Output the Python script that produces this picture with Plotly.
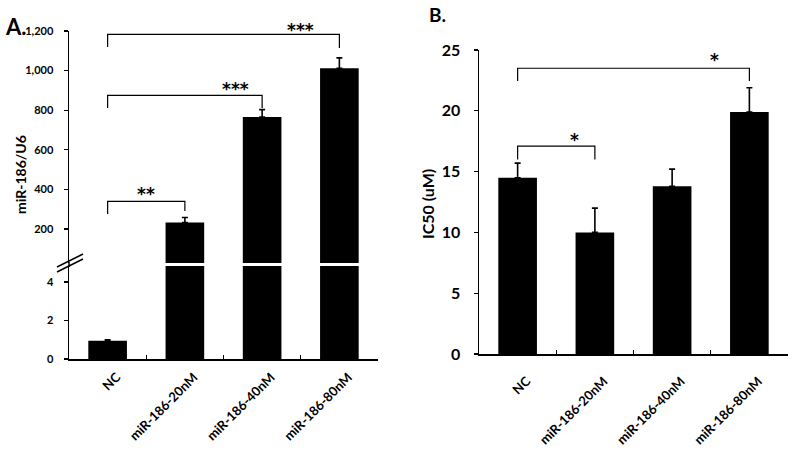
import plotly.graph_objects as go

categories = ["NC", "miR-186-20nM", "miR-186-40nM", "miR-186-80nM"]
mir_values = [0.95, 232, 765, 1012]
mir_errors = [0.05, 26, 38, 52]
ic50_values = [14.5, 10.0, 13.8, 19.9]
ic50_errors = [1.2, 2.0, 1.4, 2.0]

upper_ticks = [200, 400, 600, 800, 1000, 1200]
lower_ticks = [0, 2, 4]
ic50_ticks = [0, 5, 10, 15, 20, 25]

W, H = 794, 454
FONT = "Lato"
STAR_FONT = "DejaVu Sans"


def px(x):
    return x / W


def py(y):
    return 1 - y / H


def err(vals):
    return dict(type="data", array=vals, arrayminus=[0] * len(vals), symmetric=False,
                color="black", thickness=1.6, width=3)


fig = go.Figure()
fig.add_trace(go.Bar(x=categories, y=mir_values, width=0.5, marker_color="black",
                     marker_line_width=0, error_y=err(mir_errors), xaxis="x", yaxis="y",
                     showlegend=False, hoverinfo="skip"))
fig.add_trace(go.Bar(x=categories, y=mir_values, width=0.5, marker_color="black",
                     marker_line_width=0, error_y=err(mir_errors), xaxis="x", yaxis="y2",
                     showlegend=False, hoverinfo="skip"))
fig.add_trace(go.Bar(x=categories, y=ic50_values, width=0.5, marker_color="black",
                     marker_line_width=0, error_y=err(ic50_errors), xaxis="x3", yaxis="y3",
                     showlegend=False, hoverinfo="skip"))

axis_common = dict(showline=True, linecolor="black", linewidth=1.5, showgrid=False,
                   zeroline=False, color="black", automargin=False)

fig.update_layout(
    width=W, height=H, margin=dict(l=0, r=0, t=0, b=0, autoexpand=False),
    paper_bgcolor="white", plot_bgcolor="white",
    font=dict(family=FONT, color="black"),
    xaxis=dict(domain=[px(69), px(378)], anchor="y", type="category",
               range=[-0.5, 3.5], ticks="inside", tickson="boundaries", ticklen=4,
               tickwidth=1.2, tickcolor="black", tickangle=-45,
               tickfont=dict(size=13, weight="bold", family=FONT),
               ticklabelshift=9, ticklabelstandoff=4, **axis_common),
    yaxis=dict(domain=[py(359), py(266)], anchor="x", range=[0, 4.83],
               tickvals=lower_ticks, ticks="outside", ticklen=4, tickwidth=1.2,
               tickcolor="black", tickfont=dict(size=11, weight="bold", family=FONT),
               ticklabelstandoff=8, **axis_common),
    yaxis2=dict(domain=[py(263), py(31)], anchor="x", range=[28, 1200],
                tickvals=upper_ticks, tickformat=",", ticks="outside", ticklen=4,
                tickwidth=1.2, tickcolor="black",
                tickfont=dict(size=11, weight="bold", family=FONT),
                ticklabelstandoff=8, **axis_common),
    xaxis3=dict(domain=[px(479), px(788)], anchor="y3", type="category",
                range=[-0.5, 3.5], ticks="inside", tickson="boundaries", ticklen=4,
                tickwidth=1.2, tickcolor="black", tickangle=-45,
                tickfont=dict(size=13, weight="bold", family=FONT),
                ticklabelshift=9, ticklabelstandoff=13, **axis_common),
    yaxis3=dict(domain=[py(354), py(50)], anchor="x3", range=[0, 25],
                tickvals=ic50_ticks, ticks="outside", ticklen=4, tickwidth=1.2,
                tickcolor="black", tickfont=dict(size=16, weight="bold", family=FONT),
                ticklabelstandoff=10, **axis_common),
)

shapes = []
shapes.append(dict(type="line", xref="paper", yref="paper", x0=px(69), x1=px(69),
                   y0=py(267), y1=py(262), line=dict(color="black", width=1.5)))
for dy in (0, 5):
    shapes.append(dict(type="line", xref="paper", yref="paper",
                       x0=px(57), y0=py(267 + dy), x1=px(83), y1=py(254 + dy),
                       line=dict(color="black", width=1.5)))


def bracket(xref, yref, x0, x1, y, yl, yr):
    return dict(type="path", xref=xref, yref=yref,
                path=f"M {x0},{yl} L {x0},{y} L {x1},{y} L {x1},{yr}",
                line=dict(color="black", width=1.2))


shapes.append(bracket("x", "y2", 0, 3, 1183, 1119, 1114))
shapes.append(bracket("x", "y2", 0, 2, 875, 811, 811))
shapes.append(bracket("x", "y2", 0, 1, 339, 276, 291))
shapes.append(bracket("x3", "y3", 0, 3, 23.5, 22.45, 22.45))
shapes.append(bracket("x3", "y3", 0, 1, 17.1, 16.0, 16.0))
fig.update_layout(shapes=shapes)


def note(text, x, y, size, family=FONT, angle=0):
    return dict(text=f"<b>{text}</b>", x=px(x), y=py(y), xref="paper", yref="paper",
                showarrow=False, font=dict(size=size, family=family), textangle=angle,
                xanchor="center", yanchor="middle")


annotations = [
    note("A.", 16, 26, 22),
    note("B.", 438, 14, 19),
    note("miR-186/U6", 20, 175, 14, angle=-90),
    note("IC50 (uM)", 428, 204, 16, angle=-90),
    note("***", 300, 30, 17, STAR_FONT),
    note("***", 235, 89, 17, STAR_FONT),
    note("**", 146, 194, 17, STAR_FONT),
    note("*", 714, 60, 17, STAR_FONT),
    note("*", 574, 140, 17, STAR_FONT),
]
fig.update_layout(annotations=annotations)

fig.write_html("out.html", config={"displayModeBar": False, "staticPlot": True},
               post_script="document.body.style.margin='0';"
                           "document.body.style.overflow='hidden';")
